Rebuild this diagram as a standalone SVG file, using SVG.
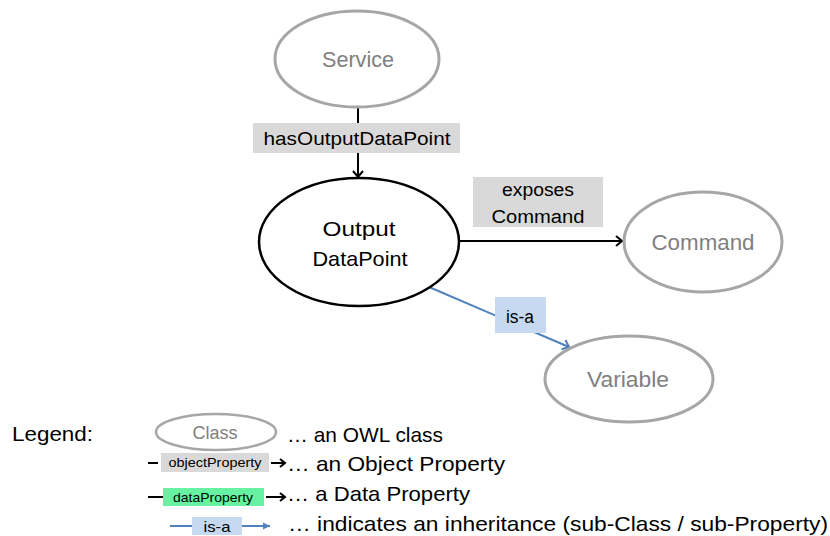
<svg xmlns="http://www.w3.org/2000/svg" width="830" height="536" viewBox="0 0 830 536">
<style>
text{font-family:"Liberation Sans","Open Sans",Arial,sans-serif;}
.cls{fill:#fff;stroke:#a6a6a6;stroke-width:3;}
.main{fill:#fff;stroke:#000;stroke-width:2.5;}
.ctext{fill:#808080;font-size:22px;text-anchor:middle;}
.btext{fill:#000;font-size:21px;text-anchor:middle;}
.lbl{fill:#000;font-size:18px;text-anchor:middle;}
.gray{fill:#d9d9d9;}
.blue{fill:#c6d9f0;}
.green{fill:#66f2a2;}
.obj{stroke:#000;stroke-width:2;fill:none;}
.isa{stroke:#4f81bd;stroke-width:2;fill:none;}
.leg{fill:#000;font-size:21px;}
</style>
<defs>
<marker id="ah" markerWidth="12" markerHeight="12" refX="9" refY="6" orient="auto" markerUnits="userSpaceOnUse">
<path d="M3,1 L9,6 L3,11" fill="none" stroke="#000" stroke-width="2"/>
</marker>
<marker id="ahb" markerWidth="12" markerHeight="12" refX="9" refY="6" orient="auto" markerUnits="userSpaceOnUse">
<path d="M3,1 L9,6 L3,11" fill="none" stroke="#4f81bd" stroke-width="2"/>
</marker>
<marker id="ahs" markerWidth="10" markerHeight="10" refX="8" refY="5" orient="auto" markerUnits="userSpaceOnUse">
<path d="M3,1 L8,5 L3,9" fill="none" stroke="#000" stroke-width="2"/>
</marker>
<marker id="ahbs" markerWidth="10" markerHeight="10" refX="8" refY="5" orient="auto" markerUnits="userSpaceOnUse">
<path d="M1,1.5 L8,5 L1,8.5 Z" fill="#4f81bd" stroke="none"/>
</marker>
</defs>

<g id="connectors">
<line class="obj" x1="358" y1="107" x2="358" y2="177" marker-end="url(#ah)"/>
<line class="obj" x1="460" y1="241" x2="622" y2="241" marker-end="url(#ah)"/>
<line class="isa" x1="429" y1="287" x2="569" y2="347" marker-end="url(#ahb)"/>
<g id="label-hasOutputDataPoint">
<rect class="gray" x="253" y="123" width="207" height="30"/>
<text class="lbl" x="357" y="145" textLength="187" lengthAdjust="spacingAndGlyphs">hasOutputDataPoint</text>
</g>
<g id="label-exposesCommand">
<rect class="gray" x="473" y="177" width="130" height="50"/>
<text class="lbl" x="538" y="196" textLength="72" lengthAdjust="spacingAndGlyphs">exposes</text>
<text class="lbl" x="538" y="223" textLength="93" lengthAdjust="spacingAndGlyphs">Command</text>
</g>
<g id="label-isa">
<rect class="blue" x="495" y="297" width="51" height="36"/>
<text class="lbl" x="520" y="323" textLength="28" lengthAdjust="spacingAndGlyphs">is-a</text>
</g>
</g>

<g id="service">
<ellipse class="cls" cx="357" cy="59" rx="82" ry="48"/>
<text class="ctext" x="358" y="67" textLength="72" lengthAdjust="spacingAndGlyphs">Service</text>
</g>
<g id="outputDataPoint">
<ellipse class="main" cx="359" cy="242" rx="100" ry="64"/>
<text class="btext" x="359" y="236" textLength="73" lengthAdjust="spacingAndGlyphs">Output</text>
<text class="btext" x="360" y="266" textLength="95" lengthAdjust="spacingAndGlyphs">DataPoint</text>
</g>
<g id="command">
<ellipse class="cls" cx="703" cy="242" rx="79" ry="50"/>
<text class="ctext" x="703" y="250" textLength="103" lengthAdjust="spacingAndGlyphs">Command</text>
</g>
<g id="variable">
<ellipse class="cls" cx="629" cy="379" rx="84" ry="43"/>
<text class="ctext" x="628" y="387" textLength="82" lengthAdjust="spacingAndGlyphs">Variable</text>
</g>

<g id="legend">
<text class="leg" x="12" y="441" textLength="81" lengthAdjust="spacingAndGlyphs">Legend:</text>
<ellipse cx="216" cy="432" rx="60" ry="18" fill="#fff" stroke="#a6a6a6" stroke-width="2.5"/>
<text x="215" y="439" fill="#808080" font-size="19" text-anchor="middle" textLength="45" lengthAdjust="spacingAndGlyphs">Class</text>
<text class="leg" x="287" y="442" textLength="156" lengthAdjust="spacingAndGlyphs">… an OWL class</text>

<line x1="148" y1="463" x2="158" y2="463" stroke="#000" stroke-width="2"/>
<rect class="gray" x="161" y="453" width="108" height="19"/>
<text x="215" y="467" font-size="13" text-anchor="middle" textLength="93" lengthAdjust="spacingAndGlyphs">objectProperty</text>
<line x1="271" y1="463" x2="285" y2="463" class="obj" marker-end="url(#ahs)"/>
<text class="leg" x="287" y="471" textLength="218" lengthAdjust="spacingAndGlyphs">… an Object Property</text>

<line x1="148" y1="497" x2="163" y2="497" stroke="#000" stroke-width="2"/>
<rect class="green" x="163" y="488" width="101" height="18"/>
<text x="213" y="502" font-size="13" text-anchor="middle" textLength="80" lengthAdjust="spacingAndGlyphs">dataProperty</text>
<line x1="266" y1="497" x2="285" y2="497" class="obj" marker-end="url(#ahs)"/>
<text class="leg" x="287" y="501" textLength="183" lengthAdjust="spacingAndGlyphs">… a Data Property</text>

<line x1="170" y1="526" x2="192" y2="526" class="isa"/>
<rect class="blue" x="192" y="517" width="50" height="18"/>
<text x="217" y="532" font-size="15" text-anchor="middle" textLength="27" lengthAdjust="spacingAndGlyphs">is-a</text>
<line x1="242" y1="526" x2="270" y2="526" class="isa" marker-end="url(#ahbs)"/>
<text class="leg" x="288" y="531" textLength="540" lengthAdjust="spacingAndGlyphs">… indicates an inheritance (sub-Class / sub-Property)</text>
</g>
</svg>
